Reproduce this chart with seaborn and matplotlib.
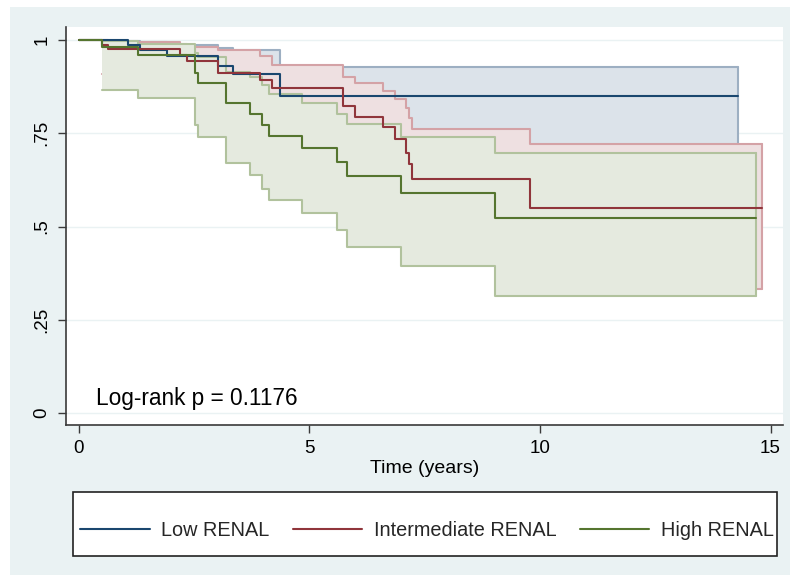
import matplotlib
matplotlib.use("Agg")
from matplotlib import pyplot as plt
from matplotlib.patches import Rectangle
import pandas as pd
import seaborn as sns

# Kaplan-Meier estimates (time in years)
low_t = [0, 1.06, 1.32, 1.90, 3.02, 3.35, 4.37, 14.30]
low_s = [1, 0.987, 0.972, 0.956, 0.931, 0.908, 0.850, 0.850]
low_lo = [None, 0.910, 0.900, 0.880, 0.850, 0.820, 0.700, 0.700]
low_hi = [None, 0.998, 0.994, 0.988, 0.980, 0.972, 0.928, 0.928]

mid_t = [0, 0.50, 0.64, 2.19, 2.34, 3.02, 3.93, 4.19, 5.73, 5.99, 6.59, 6.85,
         7.09, 7.15, 7.23, 9.78, 14.82]
mid_s = [1, 0.987, 0.975, 0.960, 0.944, 0.913, 0.893, 0.872, 0.822, 0.795,
         0.766, 0.734, 0.698, 0.667, 0.627, 0.549, 0.549]
mid_lo = [None, 0.910, 0.905, 0.890, 0.875, 0.840, 0.815, 0.790, 0.730, 0.700,
          0.660, 0.620, 0.580, 0.540, 0.500, 0.333, 0.333]
mid_hi = [None, 0.999, 0.996, 0.990, 0.982, 0.973, 0.956, 0.933, 0.902, 0.884,
          0.863, 0.841, 0.817, 0.792, 0.762, 0.721, 0.721]

high_t = [0, 0.50, 1.29, 2.52, 2.59, 3.20, 3.72, 3.98, 4.13, 4.83, 5.60, 5.82,
          6.98, 9.02, 14.68]
high_s = [1, 0.982, 0.960, 0.911, 0.884, 0.830, 0.801, 0.772, 0.743, 0.711,
          0.674, 0.635, 0.589, 0.524, 0.524]
high_lo = [None, 0.866, 0.845, 0.772, 0.741, 0.671, 0.638, 0.602, 0.571, 0.537,
           0.491, 0.446, 0.394, 0.314, 0.314]
high_hi = [None, 0.997, 0.989, 0.965, 0.955, 0.915, 0.902, 0.879, 0.855, 0.832,
           0.803, 0.776, 0.739, 0.698, 0.698]

groups = ["Low RENAL", "Intermediate RENAL", "High RENAL"]
line_colors = ["#1A476F", "#90353B", "#55752F"]
fill_colors = ["#DCE3EA", "#EEE0E1", "#E5EADF"]
edge_colors = ["#9DAFC2", "#D4A2A6", "#B1C29D"]
yticks = [0, 0.25, 0.5, 0.75, 1]
ytick_labels = ["0", ".25", ".5", ".75", "1"]
xticks = [0, 5, 10, 15]

series = [(low_t, low_s, low_lo, low_hi),
          (mid_t, mid_s, mid_lo, mid_hi),
          (high_t, high_s, high_lo, high_hi)]

frames = []
for name, (t, s, lo, hi) in zip(groups, series):
    frames.append(pd.DataFrame({"time": t, "surv": s, "lo": lo, "hi": hi, "group": name}))
df = pd.concat(frames, ignore_index=True)
df["group"] = pd.Categorical(df["group"], categories=groups)

sns.set_theme(style="white")
plt.rcParams["font.family"] = ["Liberation Sans", "DejaVu Sans"]

W, H = 790, 575
fig = plt.figure(figsize=(W / 100, H / 100), dpi=100, facecolor="white")
fig.patches.append(Rectangle((10 / W, 0), 1, (H - 7) / H, transform=fig.transFigure,
                             facecolor="#EAF2F3", edgecolor="none", zorder=-10))
# legend box
fig.patches.append(Rectangle((73 / W, (H - 556) / H), 704 / W, 64 / H, transform=fig.transFigure,
                             facecolor="white", edgecolor="#222222", lw=1.2, zorder=-5))
ax = fig.add_axes([66 / W, 150 / H, 717 / W, 398 / H])
ax.set_facecolor("white")

for y in yticks:
    ax.axhline(y, color="#EAF2F3", lw=1.0, zorder=0)

# confidence bands, each one (fill and edges) covers the ones drawn before it
for i, (name, fc, ec) in enumerate(zip(groups, fill_colors, edge_colors)):
    d = df[(df["group"] == name) & df["lo"].notna()]
    z = 1 + 0.2 * i
    lo = d["lo"].astype(float)
    hi = d["hi"].astype(float)
    ax.fill_between(d["time"], lo, hi, step="post", facecolor=fc, edgecolor="none", zorder=z)
    ax.step(d["time"], hi, where="post", color=ec, lw=1.5, zorder=z + 0.1)
    ax.step(d["time"], lo, where="post", color=ec, lw=1.5, zorder=z + 0.1)
    ax.plot([d["time"].iloc[-1]] * 2, [lo.iloc[-1], hi.iloc[-1]], color=ec,
            lw=1.5, zorder=z + 0.1)

sns.lineplot(data=df, x="time", y="surv", hue="group", palette=line_colors,
             estimator=None, drawstyle="steps-post", lw=1.5, ax=ax, zorder=3)
handles, labels = ax.get_legend_handles_labels()
ax.get_legend().remove()

ax.set_xlim(-0.28, 15.27)
ax.set_ylim(-0.032, 1.035)
ax.set_xticks(xticks)
ax.set_yticks(yticks)
ax.set_yticklabels(ytick_labels, rotation=90, va="center")
ax.tick_params(axis="both", which="major", length=6, width=1.0, color="#3a3a3a",
               labelsize=13.5, labelcolor="black", pad=5, direction="out")
ax.tick_params(bottom=True, left=True)
for side in ["top", "right"]:
    ax.spines[side].set_visible(False)
for side in ["left", "bottom"]:
    ax.spines[side].set_color("#3a3a3a")
    ax.spines[side].set_linewidth(1.2)
ax.set_xlabel("Time (years)", fontsize=14, labelpad=2, color="black")
ax.set_ylabel("")

ax.text(0.36, 0.04, "Log-rank p = 0.1176", fontsize=16.3, color="black",
        ha="left", va="center", transform=ax.transData, zorder=5)

leg = fig.legend(handles, labels, loc="center", ncol=3, mode="expand",
                 bbox_to_anchor=(80 / W, 512 / H * 0 + (H - 545) / H, 694 / W, 30 / H),
                 borderaxespad=0, fontsize=14.3, frameon=False,
                 handlelength=3.5, handletextpad=0.6, borderpad=0, columnspacing=1.0)
for line in leg.get_lines():
    line.set_linewidth(1.5)

fig.savefig("out.png", dpi=100, facecolor=fig.get_facecolor())
